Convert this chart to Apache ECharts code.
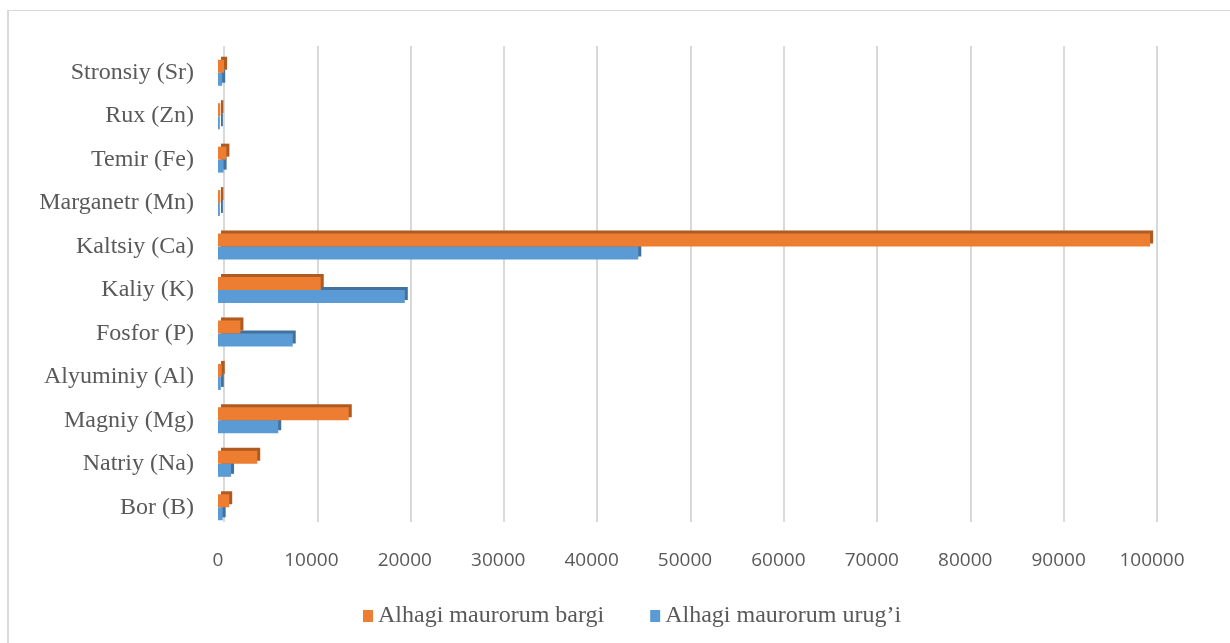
<!DOCTYPE html>
<html>
<head>
<meta charset="utf-8">
<script src="https://cdn.jsdelivr.net/npm/echarts@6/dist/echarts.min.js"></script>
<style>
  html, body { margin: 0; padding: 0; background: #fff; }
  #frame {
    position: absolute; left: 7px; top: 10px; width: 1240px; height: 660px;
    border-left: 2px solid #d9d9d9; border-top: 1px solid #d9d9d9;
  }
  #chart { position: absolute; left: 0; top: 0; width: 1230px; height: 643px; }
</style>
</head>
<body>
<div id="frame"></div>
<div id="chart"></div>
<script>
const categories = [
  'Bor (B)', 'Natriy (Na)', 'Magniy (Mg)', 'Alyuminiy (Al)', 'Fosfor (P)',
  'Kaliy (K)', 'Kaltsiy (Ca)', 'Marganetr (Mn)', 'Temir (Fe)', 'Rux (Zn)', 'Stronsiy (Sr)'
];
const bargi = [1200, 4200, 14000, 400, 2400, 11000, 99800, 250, 900, 250, 650];
const urugi = [500, 1400, 6450, 300, 8000, 20000, 45000, 200, 600, 200, 450];
const xTicks = { min: 0, max: 100000, interval: 10000 };

const NAME_BARGI = 'Alhagi maurorum bargi';
const NAME_URUGI = 'Alhagi maurorum urug\u2019i';

const chart = echarts.init(document.getElementById('chart'));

const serif = "'Liberation Serif', 'Times New Roman', serif";

chart.setOption({
  backgroundColor: 'transparent',
  animation: false,
  legend: {
    data: [NAME_BARGI, NAME_URUGI],
    bottom: 10,
    left: 358,
    icon: 'rect',
    itemWidth: 10,
    itemHeight: 12,
    itemGap: 46,
    textStyle: { fontFamily: serif, fontSize: 24, color: '#595959' }
  },
  grid: [
    { left: 218, right: 78, top: 51, bottom: 114 },
    // back wall for the gridlines (3D look)
    { left: 224, right: 73, top: 46, bottom: 121 }
  ],
  xAxis: [
    {
      type: 'value', gridIndex: 0,
      min: xTicks.min, max: xTicks.max, interval: xTicks.interval,
      axisLine: { show: false }, axisTick: { show: false },
      splitLine: { show: false },
      axisLabel: {
        margin: 22,
        formatter: (v) => String(v),
        fontFamily: "'Open Sans', sans-serif", fontSize: 19, color: '#595959'
      }
    },
    {
      type: 'value', gridIndex: 1,
      min: xTicks.min, max: xTicks.max, interval: xTicks.interval,
      axisLine: { show: false }, axisTick: { show: false },
      axisLabel: { show: false },
      splitLine: { show: true, lineStyle: { color: '#d9d9d9', width: 2 } }
    }
  ],
  yAxis: [
    {
      type: 'category', gridIndex: 0, data: categories,
      axisLine: { show: false }, axisTick: { show: false },
      axisLabel: { margin: 24, fontFamily: serif, fontSize: 24, color: '#595959' }
    },
    {
      type: 'category', gridIndex: 1, data: categories, show: false
    }
  ],
  series: [
    {
      name: NAME_BARGI, type: 'bar', xAxisIndex: 0, yAxisIndex: 0,
      data: bargi, barWidth: 13, barGap: '0%',
      itemStyle: {
        color: '#ED7D31',
        shadowColor: '#AE5A21', shadowBlur: 0, shadowOffsetX: 3, shadowOffsetY: -3
      },
      z: 4
    },
    {
      name: NAME_URUGI, type: 'bar', xAxisIndex: 0, yAxisIndex: 0,
      data: urugi, barWidth: 13, barGap: '0%',
      itemStyle: {
        color: '#5B9BD5',
        shadowColor: '#41719C', shadowBlur: 0, shadowOffsetX: 3, shadowOffsetY: -3
      },
      z: 3
    }
  ]
});
</script>
</body>
</html>
